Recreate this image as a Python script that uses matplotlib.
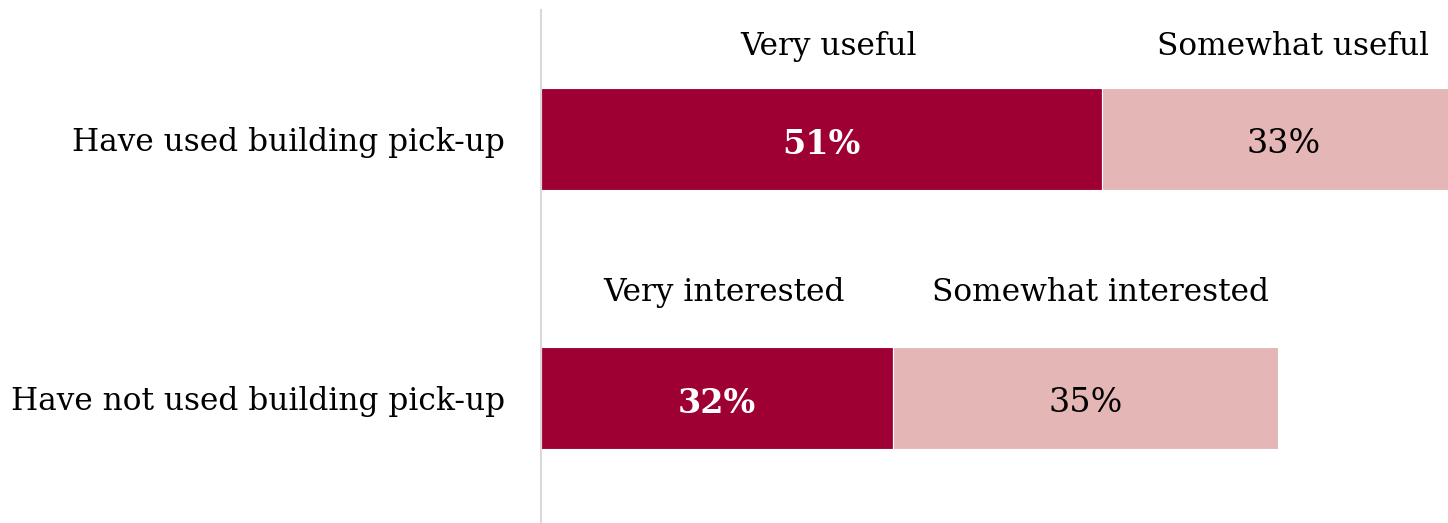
import matplotlib.pyplot as plt

# Survey results: share rating the building pick-up service
grupos = ["Have used building pick-up", "Have not used building pick-up"]
muy = [51, 32]
algo = [33, 35]
etiquetas_muy = ["Very useful", "Very interested"]
etiquetas_algo = ["Somewhat useful", "Somewhat interested"]

color_muy = "#9e0034"
color_algo = "#e5b6b6"

plt.rcParams["font.family"] = ["DejaVu Serif"]

fig = plt.figure(figsize=(14.48, 5.23), dpi=100)
ax = fig.add_axes([541 / 1448, 0, 1 - 541 / 1448, 513 / 523])

y = [0, 1]
alto = 0.395
ax.barh(y, muy, height=alto, color=color_muy, edgecolor="white", linewidth=0.8)
ax.barh(y, algo, left=muy, height=alto, color=color_algo, edgecolor="white", linewidth=0.8)

ax.set_xlim(0, 907 / 11)
ax.set_ylim(1.483, -0.498)

# valores dentro de las barras
for i in range(len(grupos)):
    ax.text(muy[i] / 2, y[i] + 0.02, f"{muy[i]}%", ha="center", va="center",
            color="white", fontweight="bold", fontsize=24)
    ax.text(muy[i] + algo[i] / 2, y[i] + 0.02, f"{algo[i]}%", ha="center", va="center",
            color="black", fontsize=24)

# encabezados de cada segmento
desfase = [0.125, 0.175]
corrimiento = [0.9, 1.4]
for i in range(len(grupos)):
    ax.text(muy[i] / 2 + 0.6, y[i] - alto / 2 - desfase[i], etiquetas_muy[i],
            ha="center", va="baseline", fontsize=22.5)
    ax.text(muy[i] + algo[i] / 2 + corrimiento[i], y[i] - alto / 2 - desfase[i], etiquetas_algo[i],
            ha="center", va="baseline", fontsize=22.5)

ax.set_yticks(y)
ax.set_yticklabels(grupos, fontsize=22.5)
ax.tick_params(axis="y", length=0, pad=26)
ax.set_xticks([])
for lado in ["top", "right", "bottom"]:
    ax.spines[lado].set_visible(False)
ax.spines["left"].set_color("#d9d9d9")
ax.spines["left"].set_linewidth(1.5)

plt.savefig("out.png", dpi=100)
